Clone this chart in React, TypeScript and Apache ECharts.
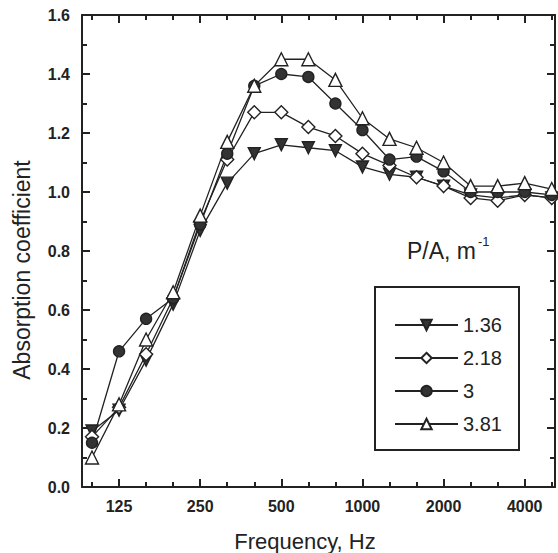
import React, { useEffect, useRef } from "react";
import * as echarts from "echarts";

// Third-octave band centre frequencies (Hz)
const freqs = [100, 125, 160, 200, 250, 315, 400, 500, 630, 800, 1000, 1250, 1600, 2000, 2500, 3150, 4000, 5000];
const labelFreqs = [125, 250, 500, 1000, 2000, 4000];

// Absorption coefficient per P/A ratio
const s136 = [0.19, 0.26, 0.43, 0.62, 0.87, 1.03, 1.13, 1.16, 1.15, 1.14, 1.085, 1.06, 1.05, 1.02, 0.99, 0.98, 0.99, 0.98];
const s218 = [0.17, 0.27, 0.45, 0.64, 0.90, 1.11, 1.27, 1.27, 1.22, 1.19, 1.13, 1.09, 1.05, 1.02, 0.98, 0.97, 0.99, 0.98];
const s3 = [0.15, 0.46, 0.57, 0.64, 0.89, 1.13, 1.36, 1.40, 1.39, 1.30, 1.21, 1.11, 1.12, 1.07, 1.00, 1.00, 1.00, 0.99];
const s381 = [0.10, 0.28, 0.50, 0.66, 0.92, 1.17, 1.36, 1.45, 1.45, 1.38, 1.25, 1.18, 1.15, 1.10, 1.02, 1.02, 1.03, 1.01];

const seriesNames = ["1.36", "2.18", "3", "3.81"];

const INK = "#222";
const FONT = 'Arial, "Liberation Sans", Helvetica, sans-serif';

export default function App() {
  const ref = useRef<HTMLDivElement>(null);
  useEffect(() => {
    if (!ref.current) return;
    const chart = echarts.init(ref.current, undefined, { renderer: "svg" });
    const allIdx = freqs.map((_, i) => i);
    const majorIdx = labelFreqs.map((f) => freqs.indexOf(f));
    const XMIN = -0.37;
    const XMAX = 17.12;
    const toPts = (arr: number[]) => arr.map((v, i) => [i, v]);

    const xBase = (position: string, major: boolean, labels: boolean) => ({
      type: "value",
      min: XMIN,
      max: XMAX,
      position,
      axisLine: { show: major, onZero: false, lineStyle: { color: INK, width: 2 } },
      axisTick: {
        show: true,
        inside: true,
        length: major ? 8 : 5,
        customValues: major ? majorIdx : allIdx,
        lineStyle: { color: INK, width: 2 },
      },
      axisLabel: labels
        ? {
            show: true,
            customValues: majorIdx,
            formatter: (v: number) => String(freqs[Math.round(v)]),
            fontSize: 16,
            fontWeight: "bold",
            color: INK,
            fontFamily: FONT,
            margin: 11,
          }
        : { show: false },
      splitLine: { show: false },
    });

    const yBase = (position: string, labels: boolean) => ({
      type: "value",
      min: 0,
      max: 1.6,
      interval: 0.2,
      position,
      axisLine: { show: true, onZero: false, lineStyle: { color: INK, width: 2 } },
      axisTick: { show: true, inside: true, length: 8, lineStyle: { color: INK, width: 2 } },
      minorTick: { show: true, splitNumber: 2, length: 5, lineStyle: { color: INK, width: 2 } },
      axisLabel: labels
        ? {
            show: true,
            formatter: (v: number) => v.toFixed(1),
            fontSize: 16,
            fontWeight: "bold",
            color: INK,
            fontFamily: FONT,
            margin: 12,
          }
        : { show: false },
      splitLine: { show: false },
      minorSplitLine: { show: false },
    });

    const mk = (name: string, data: number[], symbol: string, filled: boolean, size: number, rotate = 0) => ({
      name,
      type: "line",
      data: toPts(data),
      symbol,
      symbolSize: size,
      symbolRotate: rotate,
      showAllSymbol: true,
      lineStyle: { color: INK, width: 1.3 },
      itemStyle: {
        color: filled ? "#333" : "#fff",
        borderColor: INK,
        borderWidth: 1.4,
      },
      emphasis: { disabled: true },
    });

    chart.setOption({
      animation: false,
      textStyle: { fontFamily: FONT },
      grid: { left: 82, top: 15, right: 3, bottom: 66 },
      xAxis: [
        xBase("bottom", true, true),
        xBase("bottom", false, false),
        xBase("top", true, false),
        xBase("top", false, false),
      ],
      yAxis: [yBase("left", true), yBase("right", false)],
      legend: {
        data: seriesNames,
        orient: "vertical",
        left: 389,
        top: 310,
        itemWidth: 63,
        itemHeight: 13,
        itemGap: 13,
        textStyle: { fontSize: 20, color: INK, fontFamily: FONT },
        selectedMode: false,
      },
      series: [
        mk(seriesNames[0], s136, "triangle", true, 12, 180),
        mk(seriesNames[1], s218, "diamond", false, 13),
        mk(seriesNames[2], s3, "circle", true, 11),
        mk(seriesNames[3], s381, "triangle", false, 13),
      ],
      graphic: [
        {
          type: "rect",
          shape: { x: 375, y: 287, width: 144, height: 163 },
          style: { fill: "none", stroke: INK, lineWidth: 2 },
          z: 100,
        },
        {
          type: "text",
          x: 407,
          y: 251,
          style: { text: "P/A, m", fontSize: 23, fill: INK, fontFamily: FONT, verticalAlign: "middle" },
        },
        {
          type: "text",
          x: 478,
          y: 241,
          style: { text: "-1", fontSize: 13, fill: INK, fontFamily: FONT, verticalAlign: "middle" },
        },
        {
          type: "text",
          x: 22,
          y: 270,
          rotation: Math.PI / 2,
          style: {
            text: "Absorption coefficient",
            fontSize: 23,
            fill: INK,
            fontFamily: FONT,
            align: "center",
            verticalAlign: "middle",
          },
        },
        {
          type: "text",
          x: 305,
          y: 541,
          style: {
            text: "Frequency, Hz",
            fontSize: 22,
            fill: INK,
            fontFamily: FONT,
            align: "center",
            verticalAlign: "middle",
          },
        },
      ],
    });
    return () => chart.dispose();
  }, []);
  return (
    <div
      ref={ref}
      style={{ position: "fixed", left: 0, top: 0, width: 558, height: 553, background: "#fff" }}
    />
  );
}
